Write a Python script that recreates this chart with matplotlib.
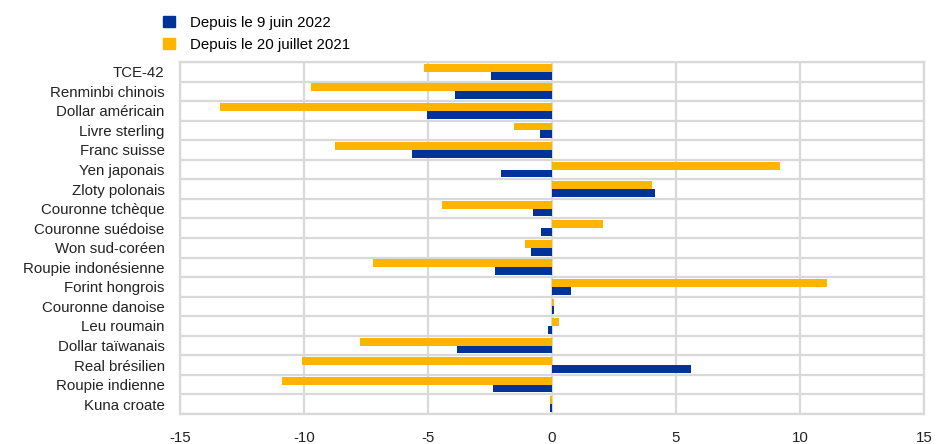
import numpy as np
import matplotlib.pyplot as plt
from matplotlib.patches import Patch

plt.rcParams['font.family'] = ['Liberation Sans', 'DejaVu Sans']
plt.rcParams['axes.unicode_minus'] = False

devises = ['TCE-42', 'Renminbi chinois', 'Dollar américain', 'Livre sterling',
           'Franc suisse', 'Yen japonais', 'Zloty polonais', 'Couronne tchèque',
           'Couronne suédoise', 'Won sud-coréen', 'Roupie indonésienne',
           'Forint hongrois', 'Couronne danoise', 'Leu roumain',
           'Dollar taïwanais', 'Real brésilien', 'Roupie indienne', 'Kuna croate']

# depuis le 9 juin 2022
juin_2022 = [-2.45, -3.9, -5.05, -0.5, -5.65, -2.05, 4.15, -0.77, -0.44, -0.85,
             -2.3, 0.75, 0.07, -0.15, -3.83, 5.6, -2.38, -0.1]
# depuis le 20 juillet 2021
juillet_2021 = [-5.15, -9.7, -13.4, -1.55, -8.75, 9.2, 4.05, -4.45, 2.05, -1.08,
                -7.2, 11.1, 0.1, 0.27, -7.75, -10.1, -10.9, -0.1]

bleu = '#003399'
jaune = '#FFB400'
gris = '#d9d9d9'

fig = plt.figure(figsize=(9.36, 4.44), dpi=100)
ax = fig.add_axes([0.1923, 0.0676, 0.7949, 0.7928])

y = np.arange(len(devises))
h = 0.4
ax.barh(y - h/2, juillet_2021, height=h, color=jaune, zorder=3)
ax.barh(y + h/2, juin_2022, height=h, color=bleu, zorder=3)

ax.set_xlim(-15, 15)
ax.set_ylim(len(devises) - 0.5, -0.5)
ax.set_xticks([-15, -10, -5, 0, 5, 10, 15])
ax.set_yticks(y)
ax.set_yticklabels(devises)
ax.set_yticks(np.arange(len(devises) + 1) - 0.5, minor=True)
ax.tick_params(axis='both', which='both', length=0, labelsize=10.8, colors='#222222')
ax.tick_params(axis='y', pad=11)
ax.tick_params(axis='x', pad=12)
ax.grid(axis='x', color=gris, linewidth=1.6, zorder=0)
ax.grid(axis='y', which='minor', color=gris, linewidth=1.6, zorder=0)
for s in ax.spines.values():
    s.set_color(gris)
    s.set_linewidth(1.6)

handles = [Patch(color=bleu, label='Depuis le 9 juin 2022'),
           Patch(color=jaune, label='Depuis le 20 juillet 2021')]
fig.legend(handles=handles, loc='upper left', bbox_to_anchor=(0.16, 0.995),
           frameon=False, fontsize=10.8, handlelength=0.8, handleheight=0.8,
           handletextpad=1.0, labelspacing=0.55)

fig.savefig('out.png', dpi=100)
